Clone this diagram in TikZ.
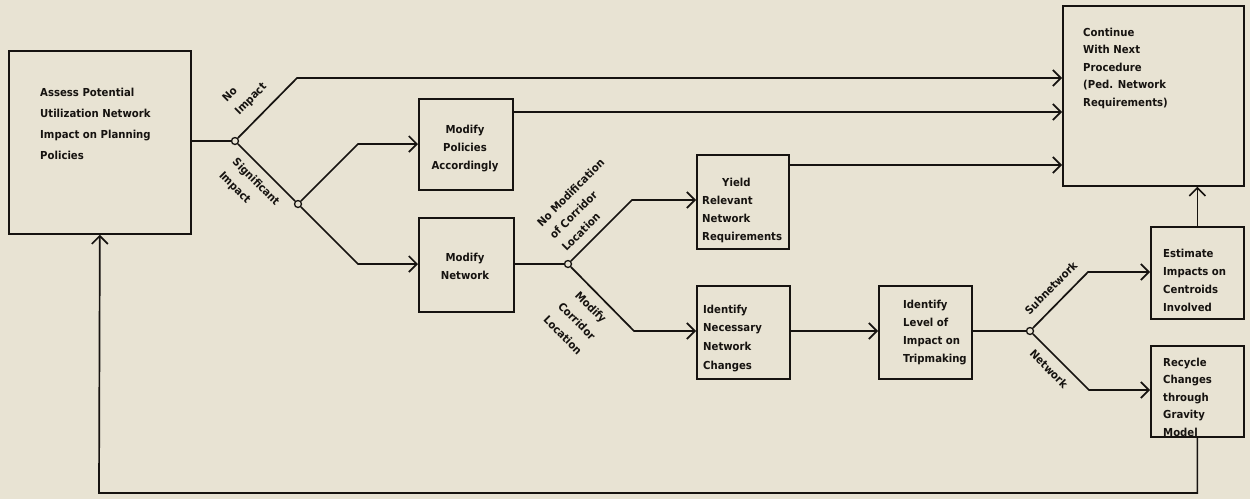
\documentclass[tikz,border=0pt]{standalone}
\usepackage{fontspec}
\setmainfont{DejaVu Sans}[FakeStretch=0.92]
\usetikzlibrary{arrows.meta}
\definecolor{bg}{RGB}{232,227,211}
\definecolor{ink}{RGB}{22,19,16}
\begin{document}
\begin{tikzpicture}[x=1pt,y=-1pt,
  box/.style={draw=ink, line width=1.7pt, rectangle, inner sep=0pt, anchor=north west},
  txt/.style={inner sep=0pt, anchor=north west, align=left, text=ink, font=\fontsize{11}{18}\selectfont\bfseries},
  lab/.style={inner sep=0pt, text=ink, font=\fontsize{11}{18}\selectfont\bfseries},
  jn/.style={circle, draw=ink, fill=bg, line width=1.3pt, minimum size=7pt, inner sep=0pt},
  wire/.style={draw=ink, line width=1.7pt},
  arr/.style={-{Straight Barb[length=8pt,width=16pt]}}]
\fill[bg] (0,0) rectangle (1250,499);
\useasboundingbox (0,0) rectangle (1250,499);

% boxes
\node[box, minimum width=182pt, minimum height=183pt] (A) at (8,50) {};
\node[box, minimum width=181pt, minimum height=180pt] (cont) at (1062,5) {};
\node[box, minimum width=94pt, minimum height=91pt] (pol) at (418,98) {};
\node[box, minimum width=95pt, minimum height=94pt] (net) at (418,217) {};
\node[box, minimum width=92pt, minimum height=94pt] (yld) at (696,154) {};
\node[box, minimum width=93pt, minimum height=93pt] (nec) at (696,285) {};
\node[box, minimum width=93pt, minimum height=93pt] (lvl) at (878,285) {};
\node[box, minimum width=93pt, minimum height=92pt] (est) at (1150,226) {};
\node[box, minimum width=93pt, minimum height=91pt] (rec) at (1150,345) {};

% box texts
\node[txt, font=\fontsize{11}{21.3}\selectfont\bfseries] (tA) at (40,87.5) {Assess Potential\\Utilization Network\\Impact on Planning\\Policies};
\node[txt, font=\fontsize{11}{17.5}\selectfont\bfseries] (tcont) at (1083,27.5) {Continue\\With Next\\Procedure\\(Ped. Network\\Requirements)};
\node[txt, anchor=north, align=center] (tpol) at (465,124.5) {Modify\\Policies\\Accordingly};
\node[txt, anchor=north, align=center] (tnet) at (465,252.5) {Modify\\Network};
\node[txt, font=\fontsize{11}{18.3}\selectfont\bfseries] (tyld) at (702,177.5) {\hspace*{20pt}Yield\\Relevant\\Network\\Requirements};
\node[txt, font=\fontsize{11}{18.7}\selectfont\bfseries] (tnec) at (703,304.5) {Identify\\Necessary\\Network\\Changes};
\node[txt, font=\fontsize{11}{18.3}\selectfont\bfseries] (tlvl) at (903,299.5) {Identify\\Level of\\Impact on\\Tripmaking};
\node[txt] (test) at (1163,248.5) {Estimate\\Impacts on\\Centroids\\Involved};
\node[txt, font=\fontsize{11}{17.5}\selectfont\bfseries] (trec) at (1163,357.5) {Recycle\\Changes\\through\\Gravity\\Model};

% junctions
\node[jn] (j1) at (235,141) {};
\node[jn] (j2) at (298,204) {};
\node[jn] (j3) at (568,264) {};
\node[jn] (j4) at (1030,331) {};

% bend points
\coordinate (b1) at (297,78);
\coordinate (b2) at (358,144);
\coordinate (b3) at (358,264);
\coordinate (b4) at (632,200);
\coordinate (b5) at (634,331);
\coordinate (b6) at (1088,272);
\coordinate (b7) at (1089,390);
\coordinate (fbl) at (99,493);

% connectors
\draw[wire] (A.east |- j1) -- (j1);
\draw[wire,arr] (j1) -- (b1) -- (b1 -| cont.west);
\draw[wire] (j1) -- (j2);
\draw[wire,arr] (j2) -- (b2) -- (b2 -| pol.west);
\draw[wire,arr] (j2) -- (b3) -- (b3 -| net.west);
\draw[wire,arr] (pol.east |- 0,112) -- (cont.west |- 0,112);
\draw[wire] (net.east |- j3) -- (j3);
\draw[wire,arr] (j3) -- (b4) -- (b4 -| yld.west);
\draw[wire,arr] (j3) -- (b5) -- (b5 -| nec.west);
\draw[wire,arr] (yld.east |- 0,165) -- (cont.west |- 0,165);
\draw[wire,arr] (nec.east |- b5) -- (lvl.west |- b5);
\draw[wire] (lvl.east |- j4) -- (j4);
\draw[wire,arr] (j4) -- (b6) -- (b6 -| est.west);
\draw[wire,arr] (j4) -- (b7) -- (b7 -| rec.west);
\draw[wire,arr] (est.north) -- (est.north |- cont.south);
\draw[wire,arr] (rec.south) -- (rec.south |- fbl) -- (fbl) -- (A.south);

% branch labels
\node[lab, rotate=45, align=left, font=\fontsize{11}{17.7}\selectfont\bfseries] (lno) at (245,93) {No\\Impact};
\node[lab, rotate=-45, align=left, font=\fontsize{11}{19}\selectfont\bfseries] (lsig) at (249,189) {Significant\\Impact};
\node[lab, rotate=45, align=left, font=\fontsize{11}{17.5}\selectfont\bfseries] (lnomod) at (583,205) {No Modification\\of Corridor\\Location};
\node[lab, rotate=-45, align=center, font=\fontsize{11}{19.8}\selectfont\bfseries] (lmod) at (577,321) {Modify\\Corridor\\Location};
\node[lab, rotate=45] (lsub) at (1051,288) {Subnetwork};
\node[lab, rotate=-45] (lnw) at (1049,369) {Network};
\end{tikzpicture}
\end{document}
